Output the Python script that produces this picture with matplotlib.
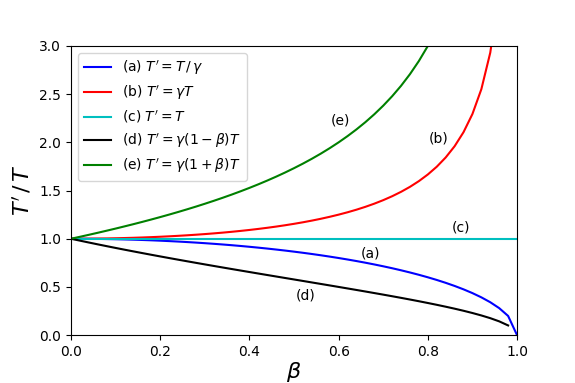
import matplotlib
matplotlib.use("Agg")
import matplotlib.pyplot as plt

beta = [0.00, 0.02, 0.04, 0.06, 0.08, 0.10, 0.12, 0.14, 0.16, 0.18,
        0.20, 0.22, 0.24, 0.26, 0.28, 0.30, 0.32, 0.34, 0.36, 0.38,
        0.40, 0.42, 0.44, 0.46, 0.48, 0.50, 0.52, 0.54, 0.56, 0.58,
        0.60, 0.62, 0.64, 0.66, 0.68, 0.70, 0.72, 0.74, 0.76, 0.78,
        0.80, 0.82, 0.84, 0.86, 0.88, 0.90, 0.92, 0.94, 0.96, 0.98, 1.00]

# (a) T' = T / gamma
series_a = [1.0, 0.9998, 0.9992, 0.9982, 0.9968, 0.9950, 0.9928, 0.9902, 0.9871, 0.9837,
            0.9798, 0.9755, 0.9708, 0.9656, 0.9600, 0.9539, 0.9474, 0.9404, 0.9330, 0.9250,
            0.9165, 0.9075, 0.8980, 0.8879, 0.8773, 0.8660, 0.8542, 0.8417, 0.8285, 0.8146,
            0.8000, 0.7846, 0.7684, 0.7513, 0.7332, 0.7141, 0.6940, 0.6726, 0.6499, 0.6258,
            0.6000, 0.5724, 0.5426, 0.5103, 0.4750, 0.4359, 0.3919, 0.3412, 0.2800, 0.1990, 0.0]

# (b) T' = gamma T
beta_b = beta[:49]
series_b = [1.0, 1.0002, 1.0008, 1.0018, 1.0032, 1.0050, 1.0073, 1.0099, 1.0130, 1.0166,
            1.0206, 1.0251, 1.0301, 1.0356, 1.0417, 1.0483, 1.0555, 1.0633, 1.0719, 1.0811,
            1.0911, 1.1019, 1.1136, 1.1262, 1.1399, 1.1547, 1.1707, 1.1881, 1.2070, 1.2276,
            1.2500, 1.2745, 1.3014, 1.3311, 1.3639, 1.4003, 1.4410, 1.4868, 1.5386, 1.5980,
            1.6667, 1.7471, 1.8430, 1.9596, 2.1054, 2.2942, 2.5516, 2.9311, 3.5714]

# (c) T' = T
series_c = [1.0] * len(beta)

# (d) T' = gamma (1 - beta) T
beta_d = beta[:50]
series_d = [1.0, 0.9802, 0.9608, 0.9417, 0.9230, 0.9045, 0.8864, 0.8686, 0.8510, 0.8336,
            0.8165, 0.7996, 0.7829, 0.7664, 0.7500, 0.7338, 0.7177, 0.7018, 0.6860, 0.6703,
            0.6547, 0.6391, 0.6236, 0.6082, 0.5928, 0.5774, 0.5620, 0.5465, 0.5311, 0.5156,
            0.5000, 0.4843, 0.4685, 0.4526, 0.4364, 0.4201, 0.4035, 0.3866, 0.3693, 0.3516,
            0.3333, 0.3145, 0.2949, 0.2744, 0.2527, 0.2294, 0.2041, 0.1759, 0.1429, 0.1005]

# (e) T' = gamma (1 + beta) T
beta_e = beta[:43]
series_e = [1.0, 1.0202, 1.0408, 1.0619, 1.0835, 1.1055, 1.1282, 1.1513, 1.1751, 1.1996,
            1.2247, 1.2506, 1.2773, 1.3049, 1.3333, 1.3628, 1.3933, 1.4249, 1.4577, 1.4919,
            1.5275, 1.5647, 1.6036, 1.6443, 1.6871, 1.7321, 1.7795, 1.8297, 1.8829, 1.9396,
            2.0000, 2.0648, 2.1344, 2.2096, 2.2913, 2.3805, 2.4785, 2.5869, 2.7080, 2.8444,
            3.0000, 3.1798, 3.3912]

labels = [r"(a) $T' = T\,/\,\gamma$", r"(b) $T' = \gamma T$", r"(c) $T' = T$",
          r"(d) $T' = \gamma(1-\beta)T$", r"(e) $T' = \gamma(1+\beta)T$"]

fig = plt.figure(figsize=(5.75, 3.83), dpi=100)
ax = fig.add_axes([0.1235, 0.125, 0.7757, 0.755])

ax.plot(beta, series_a, color="blue", label=labels[0])
ax.plot(beta_b, series_b, color="red", label=labels[1])
ax.plot(beta, series_c, color="c", label=labels[2])
ax.plot(beta_d, series_d, color="black", label=labels[3])
ax.plot(beta_e, series_e, color="green", label=labels[4])

ax.text(0.605, 2.23, "(e)", ha="center", va="center", fontsize=10)
ax.text(0.825, 2.04, "(b)", ha="center", va="center", fontsize=10)
ax.text(0.875, 1.12, "(c)", ha="center", va="center", fontsize=10)
ax.text(0.672, 0.85, "(a)", ha="center", va="center", fontsize=10)
ax.text(0.525, 0.415, "(d)", ha="center", va="center", fontsize=10)

ax.set_xlim(0, 1)
ax.set_ylim(0, 3)
ax.set_xticks([0.0, 0.2, 0.4, 0.6, 0.8, 1.0])
ax.set_yticks([0.0, 0.5, 1.0, 1.5, 2.0, 2.5, 3.0])
ax.set_xlabel(r"$\beta$", fontsize=16, labelpad=1)
ax.set_ylabel(r"$T'\,/\,T$", fontsize=16)
ax.legend(loc="upper left", fontsize=10)

fig.savefig("out.png", dpi=100)
